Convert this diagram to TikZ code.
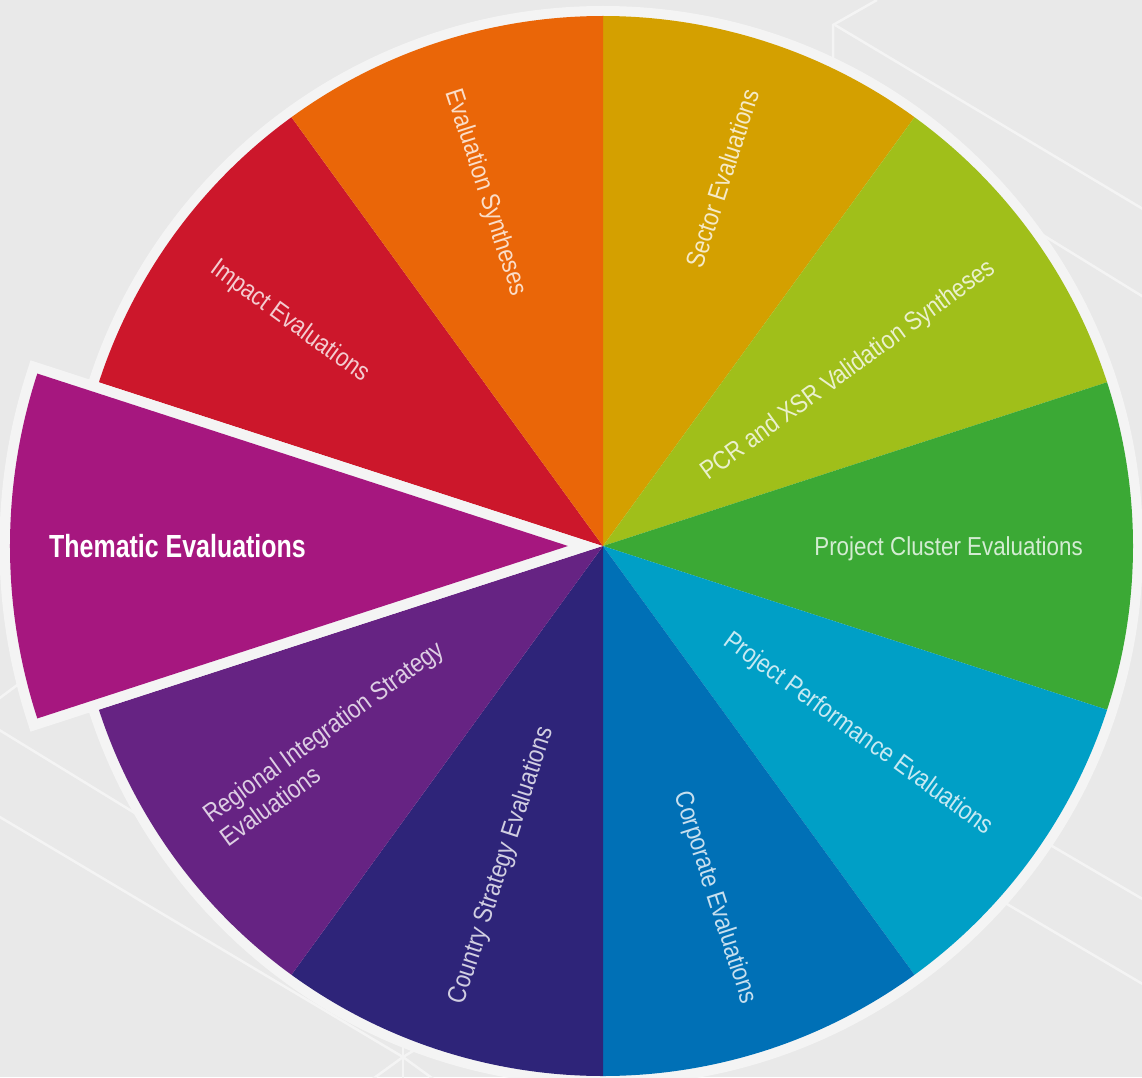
\documentclass[tikz,border=0pt]{standalone}
\usepackage{fontspec}
\setmainfont{Liberation Sans}
\newfontfamily\condfont[FakeStretch=0.86]{Liberation Sans}
\newfontfamily\themfont[FakeStretch=0.78,UprightFont={* Bold}]{Liberation Sans}
\usepackage{tikz}
\usetikzlibrary{calc,positioning}
\definecolor{bggrey}{RGB}{233, 233, 233}
\definecolor{ringgrey}{RGB}{244, 244, 244}
\definecolor{sectorgold}{RGB}{212, 160, 0}
\definecolor{pcrgreen}{RGB}{160, 191, 26}
\definecolor{clustergreen}{RGB}{59, 169, 53}
\definecolor{perfblue}{RGB}{0, 159, 198}
\definecolor{corpblue}{RGB}{0, 112, 182}
\definecolor{countrynavy}{RGB}{46, 36, 121}
\definecolor{regionpurple}{RGB}{102, 35, 131}
\definecolor{themmagenta}{RGB}{166, 23, 127}
\definecolor{impactred}{RGB}{204, 23, 43}
\definecolor{synthorange}{RGB}{234, 102, 8}

\begin{document}
\begin{tikzpicture}[x=1pt,y=1pt,font={\condfont\fontsize{26}{29}\selectfont},lbl/.style={text=white,text opacity=0.78,inner sep=0pt},onelbl/.style={lbl,text height=18.6pt,text depth=0pt},bgline/.style={draw=ringgrey,line width=2.5pt}]
 \newdimen\R
 \newdimen\Rring
 \newdimen\Rtxt
 \newdimen\Rthem
   \R=530pt
   \Rring=540pt
   \Rtxt=480pt
   \Rthem=558pt
   \useasboundingbox (-603,-531) rectangle (539,546);
   \clip (-603,-531) rectangle (539,546);
   \fill[bggrey] (-603,-531) rectangle (539,546);
   \coordinate (O) at (0:0);
   \coordinate (T) at (-35,0);
   \draw[bgline] (230,486) -- (230,521) -- (274,546);
   \draw[bgline] (232,521) -- (560,325);
   \draw[bgline] (297,399) -- (560,237);
   \draw[bgline] (297,-211) -- (560,-365);
   \draw[bgline] (297,-295) -- (560,-450);
   \draw[bgline] (-620,-174) -- (-300,-370);
   \draw[bgline] (-620,-261) -- (-200,-511);
   \draw[bgline] (-200,-500) -- (-200,-540);
   \draw[bgline] (-240,-540) -- (-200,-511) -- (-160,-540);
   \draw[bgline] (-200,-511) -- (-170,-493);
   \draw[bgline] (-610,-157) -- (-560,-120);
   \fill[ringgrey] (O) circle[radius=\Rring];
   \foreach \a/\c in {54/sectorgold,18/pcrgreen,-18/clustergreen,-54/perfblue,-90/corpblue,-126/countrynavy,-162/regionpurple,126/impactred,90/synthorange}
    \fill[\c] (O) -- ($(O)+(\a:\R)$) arc[start angle=\a, end angle=\a+36, radius=\R] -- cycle;
   \draw[ringgrey,line width=21pt,line join=miter] (T) -- ($(T)+(162:\Rthem)$) arc[start angle=162, end angle=198, radius=\Rthem] -- cycle;
   \fill[themmagenta] (T) -- ($(T)+(162:\Rthem)$) arc[start angle=162, end angle=198, radius=\Rthem] -- cycle;
   \foreach \a/\n/\t in {72/sector/Sector Evaluations,36/pcr/PCR and XSR Validation Syntheses,0/cluster/Project Cluster Evaluations,-36/perf/Project Performance Evaluations,-72/corp/Corporate Evaluations}
    \node[onelbl,anchor=east,rotate=\a] (\n) at ($(O)+(\a:\Rtxt)$) {\t};
   \foreach \a/\n/\t in {108/synth/Evaluation Syntheses,144/impact/Impact Evaluations,-108/country/Country Strategy Evaluations}
    \node[onelbl,anchor=west,rotate=\a+180] (\n) at ($(O)+(\a:\Rtxt)$) {\t};
   \node[lbl,anchor=west,rotate=36,align=left] (regional) at ($(O)+(-144:\Rtxt)$) {Regional Integration Strategy\\Evaluations};
   \node[text=white,inner sep=0pt,anchor=west,text height=23pt,text depth=0pt,font={\themfont\fontsize{32}{36}\selectfont}] (thematic) at (-554,0) {Thematic Evaluations};
\end{tikzpicture}
\end{document}
